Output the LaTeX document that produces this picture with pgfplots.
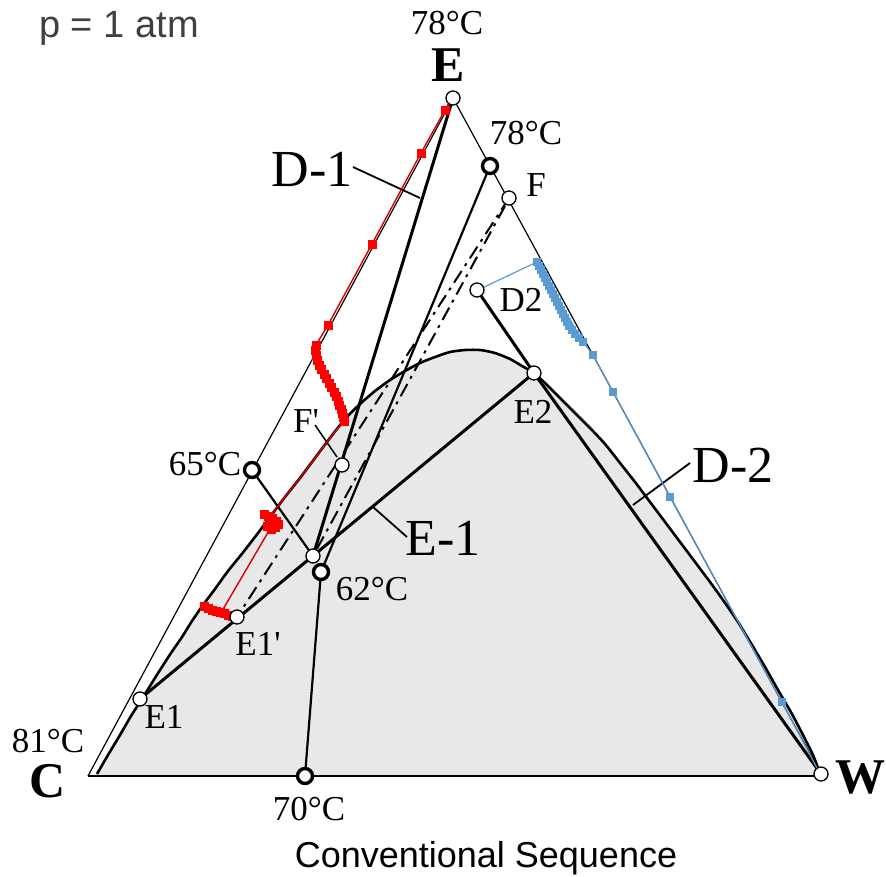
\documentclass[border=0pt]{standalone}
\usepackage{fontspec}
\setmainfont{Liberation Serif}
\newfontfamily\sansf{Liberation Sans}
\usepackage{pgfplots}
\pgfplotsset{compat=1.18}

\definecolor{shade}{RGB}{232,232,232}
\definecolor{rline}{RGB}{215,0,0}
\definecolor{rmark}{RGB}{255,0,0}
\definecolor{bline}{RGB}{91,155,213}
\definecolor{txtgray}{RGB}{64,64,64}

\tikzset{
  lbl/.style={font=\fontsize{35}{40}\selectfont, inner sep=0pt, anchor=base},
  big/.style={font=\fontsize{52}{58}\selectfont, inner sep=0pt, anchor=base},
  vtx/.style={font=\fontsize{50}{56}\selectfont\bfseries, inner sep=0pt, anchor=base},
}

\begin{document}
\begin{tikzpicture}
\begin{axis}[
  scale only axis, width=886pt, height=877pt,
  xmin=0, xmax=886, ymin=0, ymax=877, y dir=reverse,
  hide axis, clip=false,
]
\path (axis cs:0,0) rectangle (axis cs:886,877);

% two-liquid region (binodal) filled
\addplot[fill=shade, draw=none] coordinates {
(97,774) (108,755) (120,735) (131,716) (140,702) (150,686) (160,670) (171,653)
(182,637) (192,621) (203,605) (215,589) (228,571) (241,555) (255,537) (270,517)
(285,497) (300,478) (315,458) (330,438) (345,419) (360,404) (375,391) (390,380)
(405,371) (420,363) (435,357) (450,352) (465,350) (480,350) (495,353) (510,359)
(522,366) (534,373) (547,385) (560,398) (575,413) (590,428) (605,444) (620,463)
(635,482) (650,502) (665,522) (680,542) (695,562) (710,582) (723,600) (738,622)
(752,645) (765,667) (778,690) (792,714) (805,739) (813,755) (818,768) (818,776) (97,776)};

% triangle edges
\addplot[black, line width=1.2pt] coordinates {(88,776) (453,98) (821,774)};
\addplot[black, line width=1.2pt] coordinates {(88,776) (821,776)};

% binodal curve
\addplot[black, line width=2.6pt, smooth, tension=0.4] coordinates {
(97,774) (108,755) (120,735) (131,716) (140,702) (150,686) (160,670) (171,653)
(182,637) (192,621) (203,605) (215,589) (228,571) (241,555) (255,537) (270,517)
(285,497) (300,478) (315,458) (330,438) (345,419) (360,404) (375,391) (390,380)
(405,371) (420,363) (435,357) (450,352) (465,350) (480,350) (495,353) (510,359)
(522,366) (534,373) (547,385) (560,398) (575,413) (590,428) (605,444) (620,463)
(635,482) (650,502) (665,522) (680,542) (695,562) (710,582) (723,600) (738,622)
(752,645) (765,667) (778,690) (792,714) (805,739) (813,755) (818,768)};

% distillation boundaries
\addplot[black, line width=2.2pt] coordinates {(490,166) (321,572) (305,776)};
\addplot[black, line width=2.2pt] coordinates {(252,470) (313,556)};

% mixing lines (dash-dot)
\addplot[black, line width=2pt, dash pattern=on 14pt off 6pt on 3pt off 6pt] coordinates {(509,198) (237,617)};
\addplot[black, line width=2pt, dash pattern=on 14pt off 6pt on 3pt off 6pt] coordinates {(505,206) (313,556)};

% column and decanter balance lines
\addplot[black, line width=3pt] coordinates {(453,98) (313,556)};
\addplot[black, line width=3pt] coordinates {(140,699) (534,373)};
\addplot[black, line width=3pt] coordinates {(477,290) (534,373) (821,774)};

% leader lines
\addplot[black, line width=1.8pt] coordinates {(353,167) (420,198)};
\addplot[black, line width=1.8pt] coordinates {(373,507) (407,537)};
\addplot[black, line width=1.8pt] coordinates {(633,505) (690,463)};
\addplot[black, line width=1.5pt] coordinates {(315,425) (337,457)};

% column D-1 liquid profile
\addplot[rline, line width=1.4pt] coordinates {
(449,103) (445,110) (421,153) (372,244) (328,325) (316,345) (315,352) (317,360)
(320,368) (324,375) (328,382) (332,389) (336,397) (339,404) (341,411) (343,417)
(344,421) (330,438) (315,458) (300,478) (285,497) (272,514) (266,516) (271,520)
(276,524) (270,529) (222,611) (232,616) (226,614) (219,612) (212,610) (206,608) (203,606)};
\addplot[only marks, mark=square*, mark size=4pt, rmark] coordinates {
(445,110) (421,153) (372,244) (328,325) (316,345) (315,350) (316,355) (317,360)
(319,365) (321,369) (324,374) (326,378) (329,383) (331,387) (334,392) (336,396)
(338,401) (339,405) (341,409) (342,413) (343,417) (344,421)
(264,514) (268,516) (272,518) (276,521) (278,524) (275,527) (271,529) (267,526)
(232,616) (228,615) (224,613) (220,612) (216,611) (212,610) (208,608) (204,606)};

% column D-2 liquid profile
\addplot[bline, line width=1.2pt] coordinates {
(480,289) (537,262) (583,342) (593,355) (613,392) (670,497) (782,702) (818,770)};
\addplot[only marks, mark=square*, mark size=3.6pt, bline] coordinates {
(537,262) (539,266) (541,270) (543,274) (545,278) (547,282) (549,286) (551,290)
(553,294) (555,298) (557,302) (559,306) (561,310) (563,314) (565,318) (567,322)
(569,326) (572,330) (575,334) (579,338) (583,342) (593,355) (613,392) (670,497)
(782,702)};

% composition points
\addplot[only marks, mark=*, mark size=7pt, mark options={fill=white, draw=black, line width=1.3pt}] coordinates {
(453,98) (509,198) (477,290) (534,373) (342,465) (313,556) (237,617) (140,699) (821,774)};
\addplot[only marks, mark=*, mark size=7.5pt, mark options={fill=white, draw=black, line width=3.4pt}] coordinates {
(490,166) (252,470) (321,572) (305,776)};

% labels
\node[lbl] at (axis cs:447,35) {78°C};
\node[vtx] at (axis cs:448,82) {E};
\node[lbl] at (axis cs:526,145) {78°C};
\node[lbl] at (axis cs:536,197) {F};
\node[big] at (axis cs:312,187) {D-1};
\node[lbl] at (axis cs:521,312) {D2};
\node[lbl] at (axis cs:533,423) {E2};
\node[lbl] at (axis cs:306,432) {F\textquotesingle};
\node[lbl] at (axis cs:205,475) {65°C};
\node[big] at (axis cs:443,555) {E-1};
\node[big] at (axis cs:733,482) {D-2};
\node[lbl] at (axis cs:372,600) {62°C};
\node[lbl] at (axis cs:258,655) {E1\textquotesingle};
\node[lbl] at (axis cs:164,728) {E1};
\node[lbl] at (axis cs:48,752) {81°C};
\node[vtx] at (axis cs:48,797) {C};
\node[vtx] at (axis cs:860,793) {W};
\node[lbl] at (axis cs:309,820) {70°C};
\node[inner sep=0pt, anchor=base, font=\sansf\fontsize{36}{42}\selectfont] at (axis cs:486,867) {Conventional Sequence};
\node[inner sep=0pt, anchor=base, text=txtgray, font=\sansf\fontsize{38}{44}\selectfont] at (axis cs:119,38) {p = 1 atm};
\end{axis}
\end{tikzpicture}
\end{document}
